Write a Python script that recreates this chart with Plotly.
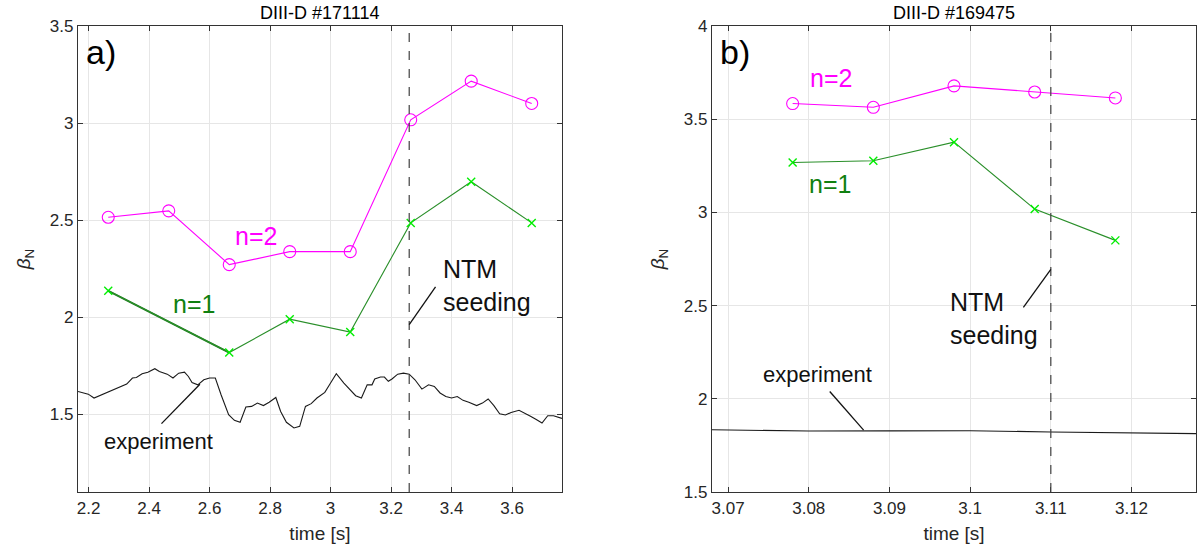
import plotly.graph_objects as go

# ---------------- Panel a) DIII-D #171114 ----------------
t_model_a = [2.265, 2.465, 2.665, 2.865, 3.065, 3.265, 3.465, 3.665]
beta_n2_a = [2.515, 2.548, 2.271, 2.338, 2.338, 3.017, 3.216, 3.101]
t_n1_a = [2.265, 2.665, 2.865, 3.065, 3.265, 3.465, 3.665]
beta_n1_a = [2.136, 1.818, 1.990, 1.924, 2.486, 2.698, 2.486]

t_exp_a = [2.165, 2.199, 2.218, 2.237, 2.276, 2.314, 2.326, 2.345, 2.358, 2.377,
           2.396, 2.419, 2.434, 2.460, 2.479, 2.498, 2.517, 2.530, 2.542, 2.561,
           2.581, 2.600, 2.619, 2.638, 2.663, 2.682, 2.701, 2.720, 2.739, 2.758,
           2.778, 2.797, 2.819, 2.835, 2.854, 2.879, 2.898, 2.917, 2.936, 2.955,
           2.981, 3.000, 3.019, 3.044, 3.070, 3.083, 3.102, 3.121, 3.137, 3.146,
           3.165, 3.178, 3.191, 3.203, 3.222, 3.241, 3.260, 3.279, 3.302, 3.324,
           3.343, 3.362, 3.381, 3.400, 3.419, 3.438, 3.457, 3.483, 3.502, 3.521,
           3.540, 3.559, 3.578, 3.597, 3.623, 3.642, 3.661, 3.680, 3.699, 3.718,
           3.737, 3.765]
beta_exp_a = [1.618, 1.604, 1.584, 1.596, 1.622, 1.647, 1.656, 1.687, 1.690, 1.709,
              1.717, 1.735, 1.721, 1.707, 1.687, 1.712, 1.717, 1.695, 1.664, 1.652,
              1.678, 1.687, 1.687, 1.601, 1.498, 1.469, 1.459, 1.538, 1.541, 1.558,
              1.545, 1.562, 1.587, 1.515, 1.459, 1.430, 1.438, 1.541, 1.555, 1.584,
              1.613, 1.661, 1.709, 1.661, 1.618, 1.596, 1.584, 1.652, 1.652, 1.682,
              1.692, 1.692, 1.670, 1.682, 1.707, 1.712, 1.707, 1.678, 1.630, 1.652,
              1.644, 1.610, 1.592, 1.584, 1.592, 1.572, 1.562, 1.545, 1.558, 1.579,
              1.545, 1.503, 1.497, 1.510, 1.521, 1.507, 1.490, 1.473, 1.455, 1.493,
              1.493, 1.479]
seed_time_a = 3.26
xrange_a = [2.165, 3.765]
yrange_a = [1.1, 3.5]
xticks_a = [2.2, 2.4, 2.6, 2.8, 3.0, 3.2, 3.4, 3.6]
xticklabels_a = ["2.2", "2.4", "2.6", "2.8", "3", "3.2", "3.4", "3.6"]
yticks_a = [1.5, 2.0, 2.5, 3.0, 3.5]
yticklabels_a = ["1.5", "2", "2.5", "3", "3.5"]

# ---------------- Panel b) DIII-D #169475 ----------------
t_model_b = [3.078, 3.088, 3.098, 3.108, 3.118]
beta_n2_b = [3.584, 3.564, 3.679, 3.646, 3.614]
beta_n1_b = [3.268, 3.277, 3.377, 3.018, 2.850]
t_exp_b = [3.068, 3.075, 3.080, 3.090, 3.100, 3.110, 3.120, 3.128]
beta_exp_b = [1.834, 1.830, 1.827, 1.828, 1.829, 1.822, 1.818, 1.813]
seed_time_b = 3.11
xrange_b = [3.068, 3.128]
yrange_b = [1.5, 4.0]
xticks_b = [3.07, 3.08, 3.09, 3.10, 3.11, 3.12]
xticklabels_b = ["3.07", "3.08", "3.09", "3.1", "3.11", "3.12"]
yticks_b = [1.5, 2.0, 2.5, 3.0, 3.5, 4.0]
yticklabels_b = ["1.5", "2", "2.5", "3", "3.5", "4"]

# annotation anchors (data coords)
lbl_a = {"n2": (2.752, 2.42), "n1": (2.549, 2.07), "ntm": (3.366, 2.165),
         "exp": (2.43, 1.36)}
ptr_a_ntm = ((3.347, 2.156), (3.26, 1.962))
ptr_a_exp = ((2.441, 1.452), (2.568, 1.655))
lbl_b = {"n2": (3.0827, 3.72), "n1": (3.0826, 3.15), "ntm": (3.0972, 2.43),
         "exp": (3.0811, 2.13)}
ptr_b_ntm = ((3.1066, 2.49), (3.1100, 2.695))
ptr_b_exp = ((3.0826, 2.039), (3.0868, 1.832))

MAG = "#ff00ff"
LIME = "#00ee00"
GREEN_LINE = "#2a8f2a"
GREEN_DARK = "#1e7a1e"
GREEN_TXT = "#108010"
AX = "#333333"
FONT = "Liberation Sans, Arial, sans-serif"

fig = go.Figure()

def add_panel(xa, ya, t_m, n2, t1, n1, te, be, thick_first=False):
    fig.add_trace(go.Scatter(x=te, y=be, mode="lines", xaxis=xa, yaxis=ya,
                             line=dict(color="#1a1a1a", width=1.1), showlegend=False))
    if thick_first:
        fig.add_trace(go.Scatter(x=t1[:2], y=n1[:2], mode="lines", xaxis=xa, yaxis=ya,
                                 line=dict(color=GREEN_DARK, width=2), showlegend=False))
    fig.add_trace(go.Scatter(x=t1, y=n1, mode="lines+markers", xaxis=xa, yaxis=ya,
                             line=dict(color=GREEN_LINE, width=1.1),
                             marker=dict(symbol="x-thin", size=8,
                                         line=dict(color=LIME, width=1.4)),
                             showlegend=False))
    fig.add_trace(go.Scatter(x=t_m, y=n2, mode="lines+markers", xaxis=xa, yaxis=ya,
                             line=dict(color=MAG, width=1.1),
                             marker=dict(symbol="circle-open", size=12,
                                         color=MAG, line=dict(width=1.1)),
                             showlegend=False))

add_panel("x", "y", t_model_a, beta_n2_a, t_n1_a, beta_n1_a, t_exp_a, beta_exp_a,
          thick_first=True)
add_panel("x2", "y2", t_model_b, beta_n2_b, t_model_b, beta_n1_b, t_exp_b, beta_exp_b)

axis_common = dict(showline=True, linecolor=AX, linewidth=1.2, mirror="ticks",
                   ticks="inside", ticklen=5, tickcolor=AX, showgrid=True,
                   gridcolor="#e6e6e6", gridwidth=1, zeroline=False, automargin=False,
                   tickfont=dict(family=FONT, size=17, color="#262626"))

ydom = [0.1151, 0.9532]
xtitle = dict(text="time [s]", font=dict(size=19, color="#262626"), standoff=10)
ytitle = dict(text="<i>β</i><sub>N</sub>", font=dict(size=19, color="#262626"), standoff=14)
fig.update_layout(
    width=1200, height=556, margin=dict(l=0, r=0, t=0, b=0, autoexpand=False),
    paper_bgcolor="white", plot_bgcolor="white",
    font=dict(family=FONT, color="#262626"),
    xaxis=dict(domain=[0.065, 0.4683], range=xrange_a, tickvals=xticks_a,
               ticktext=xticklabels_a, anchor="y", title=xtitle, **axis_common),
    yaxis=dict(domain=ydom, range=yrange_a, tickvals=yticks_a,
               ticktext=yticklabels_a, anchor="x", title=ytitle, **axis_common),
    xaxis2=dict(domain=[0.5933, 0.9967], range=xrange_b, tickvals=xticks_b,
                ticktext=xticklabels_b, anchor="y2", title=xtitle, **axis_common),
    yaxis2=dict(domain=ydom, range=yrange_b, tickvals=yticks_b,
                ticktext=yticklabels_b, anchor="x2", title=ytitle, **axis_common),
)

# seeding dashed lines
for xa, ya, ts in (("x", "y", seed_time_a), ("x2", "y2", seed_time_b)):
    fig.add_shape(type="line", xref=xa, yref=f"{ya} domain", x0=ts, x1=ts, y0=0, y1=1,
                  line=dict(color="#404040", width=1.2, dash="dash"))

# pointer lines
for xa, ya, p in (("x", "y", ptr_a_ntm), ("x", "y", ptr_a_exp),
                  ("x2", "y2", ptr_b_ntm), ("x2", "y2", ptr_b_exp)):
    fig.add_shape(type="line", xref=xa, yref=ya, x0=p[0][0], y0=p[0][1],
                  x1=p[1][0], y1=p[1][1], line=dict(color="#111111", width=1.3))

def txt(xa, ya, pos, text, color, size, xanchor="center"):
    fig.add_annotation(xref=xa, yref=ya, x=pos[0], y=pos[1], text=text,
                       showarrow=False, xanchor=xanchor, yanchor="middle",
                       font=dict(family=FONT, size=size, color=color), align="left")

txt("x", "y", lbl_a["n2"], "n=2", MAG, 25)
txt("x", "y", lbl_a["n1"], "n=1", GREEN_TXT, 25)
txt("x", "y", lbl_a["ntm"], "NTM<br>seeding", "#111111", 25, xanchor="left")
txt("x", "y", lbl_a["exp"], "experiment", "#111111", 22)
txt("x2", "y2", lbl_b["n2"], "n=2", MAG, 25)
txt("x2", "y2", lbl_b["n1"], "n=1", GREEN_TXT, 25)
txt("x2", "y2", lbl_b["ntm"], "NTM<br>seeding", "#111111", 25, xanchor="left")
txt("x2", "y2", lbl_b["exp"], "experiment", "#111111", 22)

# panel letters
for xa, ya, letter in (("x domain", "y domain", "a)"), ("x2 domain", "y2 domain", "b)")):
    fig.add_annotation(xref=xa, yref=ya, x=0.012, y=0.99, text=letter, showarrow=False,
                       xanchor="left", yanchor="top",
                       font=dict(family=FONT, size=34, color="#000000"))

# panel titles
for xc, title in (((0.065 + 0.4683) / 2, "DIII-D #171114"),
                  ((0.5933 + 0.9967) / 2, "DIII-D #169475")):
    fig.add_annotation(xref="paper", yref="paper", x=xc, y=1 - 13 / 556, text=title,
                       showarrow=False, xanchor="center", yanchor="middle",
                       font=dict(family=FONT, size=18, color="#000000"))

fig.write_html("out.html", config={"displayModeBar": False},
               post_script="document.body.style.margin='0';"
                           "document.documentElement.style.overflow='hidden';")
